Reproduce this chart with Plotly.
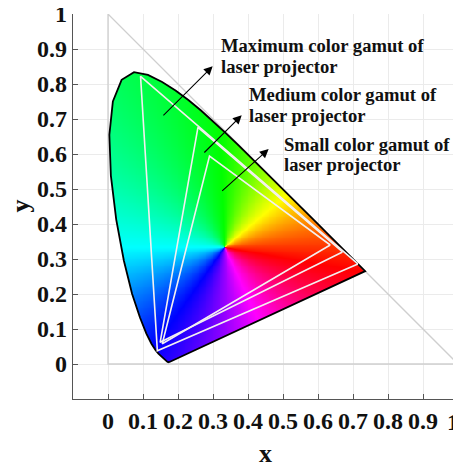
import numpy as np
import plotly.graph_objects as go

# CIE 1931 spectral locus (380-700 nm, 5 nm steps)
locus_x = [0.1741, 0.1740, 0.1738, 0.1736, 0.1733, 0.1730, 0.1726, 0.1721, 0.1714, 0.1703,
           0.1689, 0.1669, 0.1644, 0.1611, 0.1566, 0.1510, 0.1440, 0.1355, 0.1241, 0.1096,
           0.0913, 0.0687, 0.0454, 0.0235, 0.0082, 0.0039, 0.0139, 0.0389, 0.0743, 0.1142,
           0.1547, 0.1929, 0.2296, 0.2658, 0.3016, 0.3373, 0.3731, 0.4087, 0.4441, 0.4788,
           0.5125, 0.5448, 0.5752, 0.6029, 0.6270, 0.6482, 0.6658, 0.6801, 0.6915, 0.7006,
           0.7079, 0.7140, 0.7190, 0.7230, 0.7260, 0.7283, 0.7300, 0.7311, 0.7320, 0.7327,
           0.7334, 0.7340, 0.7344, 0.7346, 0.7347]
locus_y = [0.0050, 0.0050, 0.0049, 0.0049, 0.0048, 0.0048, 0.0048, 0.0048, 0.0051, 0.0058,
           0.0069, 0.0086, 0.0109, 0.0138, 0.0177, 0.0227, 0.0297, 0.0399, 0.0578, 0.0868,
           0.1327, 0.2007, 0.2950, 0.4127, 0.5384, 0.6548, 0.7502, 0.8120, 0.8338, 0.8262,
           0.8059, 0.7816, 0.7543, 0.7243, 0.6923, 0.6589, 0.6245, 0.5896, 0.5547, 0.5202,
           0.4866, 0.4544, 0.4242, 0.3965, 0.3725, 0.3514, 0.3340, 0.3197, 0.3083, 0.2993,
           0.2920, 0.2859, 0.2809, 0.2770, 0.2740, 0.2717, 0.2700, 0.2689, 0.2680, 0.2673,
           0.2666, 0.2660, 0.2656, 0.2654, 0.2653]

# Gamut triangles (R, G, B)
max_x = [0.714, 0.093, 0.141]
max_y = [0.286, 0.822, 0.038]
med_x = [0.670, 0.257, 0.149]
med_y = [0.320, 0.676, 0.062]
small_x = [0.635, 0.290, 0.155]
small_y = [0.340, 0.594, 0.058]

label_line1 = ["Maximum color gamut of", "Medium color gamut of", "Small color gamut of"]
label_line2 = ["laser projector", "laser projector", "laser projector"]
label_x = [0.318, 0.398, 0.498]
label_y1 = [0.909, 0.769, 0.627]
label_y2 = [0.849, 0.711, 0.570]
arrow_tail_x = [0.154, 0.271, 0.322]
arrow_tail_y = [0.706, 0.600, 0.491]
arrow_head_x = [0.299, 0.382, 0.459]
arrow_head_y = [0.851, 0.711, 0.614]

ticks = [0, 0.1, 0.2, 0.3, 0.4, 0.5, 0.6, 0.7, 0.8, 0.9, 1]
tick_text = ["0", "0.1", "0.2", "0.3", "0.4", "0.5", "0.6", "0.7", "0.8", "0.9", "1"]
x_title = "x"
y_title = "y"

# --- colour fill inside the locus (hue wheel around the white point) ---
step = 0.0025
gx = np.arange(0.0, 0.74, step)
gy = np.arange(0.0, 0.84, step)
X, Y = np.meshgrid(gx, gy)
vx = np.array(locus_x)
vy = np.array(locus_y)
inside = np.zeros(X.shape, dtype=bool)
n = len(vx)
j = n - 1
for i in range(n):
    dy = vy[j] - vy[i]
    dy = dy if abs(dy) > 1e-12 else 1e-12
    cond = ((vy[i] > Y) != (vy[j] > Y)) & (X < (vx[j] - vx[i]) * (Y - vy[i]) / dy + vx[i])
    inside ^= cond
    j = i
theta = np.degrees(np.arctan2(Y - 0.333, X - 0.333))
Z = np.mod(theta + 10.0, 360.0)
Z = np.where(inside, Z, np.nan)

cs = [[0.0, "#ff0000"], [50 / 360, "#ffff00"], [102 / 360, "#00ff00"],
      [190 / 360, "#00ffff"], [245 / 360, "#0000ff"], [305 / 360, "#ff00ff"],
      [1.0, "#ff0000"]]

fig = go.Figure()

# grey reference triangle
fig.add_trace(go.Scatter(x=[0, 0, 1, 0], y=[1, 0, 0, 1], mode="lines",
                         line=dict(color="#cfcfcf", width=1.3),
                         hoverinfo="skip", showlegend=False))

fig.add_trace(go.Heatmap(x=gx, y=gy, z=Z, colorscale=cs, zmin=0, zmax=360,
                         showscale=False, hoverinfo="skip"))

# locus boundary
fig.add_trace(go.Scatter(x=locus_x + [locus_x[0]], y=locus_y + [locus_y[0]], mode="lines",
                         line=dict(color="black", width=1.8),
                         hoverinfo="skip", showlegend=False))

for tx, ty in [(max_x, max_y), (med_x, med_y), (small_x, small_y)]:
    fig.add_trace(go.Scatter(x=tx + [tx[0]], y=ty + [ty[0]], mode="lines",
                             line=dict(color="#f4f0f0", width=1.6),
                             hoverinfo="skip", showlegend=False))

tick_font = dict(family="Liberation Serif", size=24, color="#111111", weight="bold")
label_font = dict(family="Liberation Serif", size=18.6, color="#111111", weight="bold")
title_font = dict(family="Liberation Serif", size=26, color="#111111", weight="bold")
annotations = []
for k in range(3):
    annotations.append(dict(x=arrow_head_x[k], y=arrow_head_y[k],
                            ax=arrow_tail_x[k], ay=arrow_tail_y[k],
                            xref="x", yref="y", axref="x", ayref="y",
                            text="", showarrow=True, arrowhead=2, arrowsize=1.6,
                            arrowwidth=1.1, arrowcolor="black"))
    annotations.append(dict(x=label_x[k], y=label_y1[k], xref="x", yref="y",
                            text=label_line1[k], showarrow=False, xanchor="left",
                            yanchor="middle", font=label_font))
    annotations.append(dict(x=label_x[k], y=label_y2[k], xref="x", yref="y",
                            text=label_line2[k], showarrow=False, xanchor="left",
                            yanchor="middle", font=label_font))

# last x tick label sits at the figure edge; draw it as an annotation so it is not dropped
annotations.append(dict(x=1, y=0, xref="paper", yref="paper", text=tick_text[-1],
                        showarrow=False, xanchor="right", yanchor="middle",
                        xshift=3, yshift=-23, font=tick_font))
# axis titles
annotations.append(dict(x=0.5, y=0, xref="paper", yref="paper", text=x_title,
                        showarrow=False, xanchor="center", yanchor="middle",
                        yshift=-54, font=title_font))
annotations.append(dict(x=0, y=0.5, xref="paper", yref="paper", text=y_title,
                        showarrow=False, xanchor="center", yanchor="middle",
                        textangle=-90, xshift=-53, font=title_font))

axis_common = dict(range=[-0.1, 1.0], tickvals=ticks,
                   showgrid=True, gridcolor="#ebebeb", gridwidth=1,
                   zeroline=False, showline=True, linecolor="#555555", linewidth=1.3,
                   ticks="inside", ticklen=5, tickcolor="#555555",
                   automargin=False, ticklabeloverflow="allow",
                   tickfont=tick_font)

# the page body adds an 8 px offset, so the figure is 8 px smaller each way
fig.update_layout(
    width=453, height=457,
    margin=dict(l=65, r=3, t=6, b=66),
    paper_bgcolor="white", plot_bgcolor="white",
    xaxis=dict(**axis_common, ticktext=tick_text[:-1] + [""]),
    yaxis=dict(**axis_common, ticktext=tick_text),
    annotations=annotations,
    showlegend=False,
)

fig.write_html("out.html")
